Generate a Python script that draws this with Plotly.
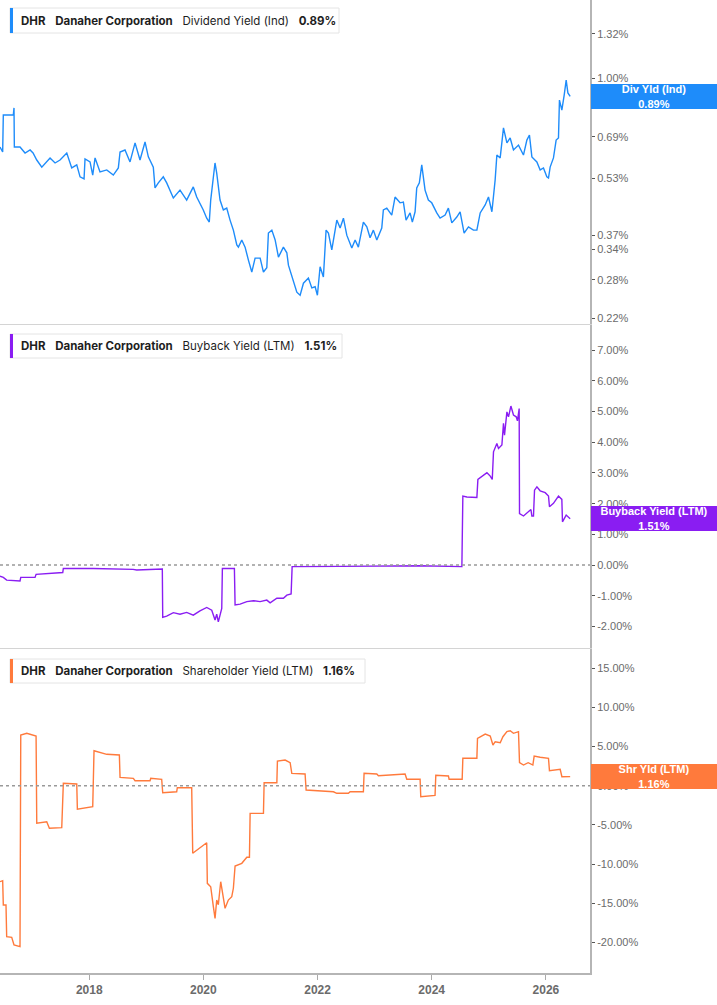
import math
import pandas as pd
import plotly.graph_objects as go

# ---------------- data (dates as decimal years, values in %) ----------------
div_years = [
    2016.437, 2016.484, 2016.495, 2016.670, 2016.682, 2016.688, 2016.787, 2016.875, 2016.963, 2017.015,
    2017.080, 2017.168, 2017.313, 2017.401, 2017.488, 2017.606, 2017.693, 2017.781, 2017.839, 2017.909,
    2017.926, 2018.014, 2018.061, 2018.102, 2018.189, 2018.307, 2018.422, 2018.510, 2018.540, 2018.627,
    2018.715, 2018.803, 2018.890, 2018.978, 2019.036, 2019.123, 2019.153, 2019.211, 2019.298, 2019.358,
    2019.474, 2019.591, 2019.708, 2019.824, 2019.884, 2019.941, 2019.999, 2020.059, 2020.104, 2020.129,
    2020.146, 2020.204, 2020.234, 2020.292, 2020.350, 2020.409, 2020.467, 2020.525, 2020.585, 2020.613,
    2020.672, 2020.730, 2020.788, 2020.847, 2020.905, 2020.993, 2021.051, 2021.110, 2021.138, 2021.198,
    2021.256, 2021.314, 2021.401, 2021.461, 2021.489, 2021.576, 2021.636, 2021.694, 2021.752, 2021.839,
    2021.899, 2021.957, 2021.997, 2022.044, 2022.102, 2022.149, 2022.190, 2022.249, 2022.337, 2022.395,
    2022.453, 2022.512, 2022.600, 2022.658, 2022.715, 2022.803, 2022.863, 2022.920, 2022.978, 2023.038,
    2023.125, 2023.153, 2023.213, 2023.300, 2023.358, 2023.446, 2023.504, 2023.551, 2023.621, 2023.661,
    2023.709, 2023.738, 2023.784, 2023.826, 2023.884, 2023.942, 2024.001, 2024.089, 2024.147, 2024.235,
    2024.292, 2024.352, 2024.439, 2024.497, 2024.567, 2024.643, 2024.730, 2024.790, 2024.848, 2024.935,
    2024.993, 2025.053, 2025.110, 2025.140, 2025.198, 2025.256, 2025.316, 2025.373, 2025.431, 2025.519,
    2025.606, 2025.666, 2025.711, 2025.754, 2025.841, 2025.899, 2025.957, 2026.016, 2026.045, 2026.074,
    2026.132, 2026.179, 2026.220, 2026.237, 2026.279, 2026.320, 2026.355, 2026.385, 2026.425,
]
div_yield = [
    0.647, 0.627, 0.792, 0.792, 0.828, 0.647, 0.647, 0.623, 0.635, 0.623,
    0.596, 0.570, 0.604, 0.585, 0.596, 0.623, 0.567, 0.578, 0.536, 0.529,
    0.600, 0.589, 0.542, 0.604, 0.553, 0.560, 0.542, 0.567, 0.627, 0.635,
    0.589, 0.664, 0.596, 0.668, 0.608, 0.570, 0.500, 0.516, 0.536, 0.516,
    0.469, 0.493, 0.463, 0.503, 0.472, 0.455, 0.435, 0.413, 0.403, 0.463,
    0.493, 0.585, 0.549, 0.463, 0.435, 0.440, 0.408, 0.383, 0.349, 0.344,
    0.360, 0.344, 0.317, 0.294, 0.321, 0.321, 0.294, 0.302, 0.376, 0.383,
    0.360, 0.323, 0.344, 0.332, 0.307, 0.280, 0.259, 0.254, 0.274, 0.283,
    0.266, 0.268, 0.254, 0.304, 0.285, 0.383, 0.376, 0.338, 0.408, 0.388,
    0.413, 0.371, 0.342, 0.360, 0.344, 0.403, 0.391, 0.365, 0.383, 0.360,
    0.388, 0.435, 0.440, 0.421, 0.472, 0.455, 0.457, 0.408, 0.427, 0.403,
    0.430, 0.500, 0.516, 0.578, 0.493, 0.463, 0.455, 0.427, 0.413, 0.421,
    0.440, 0.401, 0.416, 0.430, 0.376, 0.391, 0.383, 0.383, 0.427, 0.449,
    0.472, 0.430, 0.526, 0.615, 0.604, 0.730, 0.664, 0.685, 0.635, 0.655,
    0.615, 0.676, 0.698, 0.608, 0.589, 0.560, 0.567, 0.536, 0.532, 0.570,
    0.604, 0.676, 0.685, 0.870, 0.817, 0.898, 0.987, 0.910, 0.890,
]

bb_years = [
    2016.437, 2016.495, 2016.554, 2016.787, 2016.800, 2017.050, 2017.068, 2017.283, 2017.301, 2017.536,
    2017.546, 2018.072, 2018.768, 2018.832, 2019.281, 2019.288, 2019.358, 2019.474, 2019.591, 2019.708,
    2019.824, 2019.941, 2020.059, 2020.147, 2020.205, 2020.234, 2020.262, 2020.322, 2020.333, 2020.543,
    2020.555, 2020.643, 2020.760, 2020.876, 2020.993, 2021.110, 2021.168, 2021.286, 2021.401, 2021.461,
    2021.536, 2021.554, 2022.395, 2023.797, 2024.528, 2024.545, 2024.615, 2024.790, 2024.808, 2024.878,
    2024.966, 2025.024, 2025.059, 2025.081, 2025.140, 2025.169, 2025.228, 2025.256, 2025.274, 2025.316,
    2025.344, 2025.386, 2025.431, 2025.479, 2025.501, 2025.531, 2025.537, 2025.607, 2025.695, 2025.737,
    2025.754, 2025.782, 2025.800, 2025.842, 2025.899, 2025.987, 2026.045, 2026.062, 2026.132, 2026.220,
    2026.279, 2026.290, 2026.355, 2026.425,
]
bb_yield = [
    -0.36, -0.40, -0.49, -0.52, -0.40, -0.40, -0.30, -0.27, -0.25, -0.24,
    -0.11, -0.11, -0.14, -0.16, -0.13, -1.70, -1.66, -1.55, -1.60, -1.54,
    -1.63, -1.49, -1.38, -1.47, -1.79, -1.60, -1.85, -1.41, -0.11, -0.11,
    -1.30, -1.27, -1.19, -1.16, -1.19, -1.14, -1.23, -1.08, -1.08, -0.98,
    -0.94, -0.05, -0.04, -0.02, -0.05, 2.25, 2.22, 2.20, 2.79, 2.90,
    3.01, 2.90, 2.79, 3.69, 3.96, 3.80, 3.91, 4.62, 4.23, 4.99,
    4.83, 5.18, 4.89, 4.83, 4.70, 5.10, 1.68, 1.60, 1.74, 1.81,
    1.60, 1.60, 2.44, 2.55, 2.42, 2.36, 2.25, 1.90, 2.01, 2.25,
    2.14, 1.41, 1.63, 1.51,
]

shr_years = [
    2016.437, 2016.484, 2016.495, 2016.542, 2016.554, 2016.642, 2016.682, 2016.787, 2016.800, 2016.905,
    2017.068, 2017.080, 2017.255, 2017.301, 2017.518, 2017.546, 2017.781, 2017.792, 2018.061, 2018.084,
    2018.307, 2018.528, 2018.540, 2018.773, 2018.803, 2019.066, 2019.078, 2019.270, 2019.288, 2019.533,
    2019.544, 2019.796, 2019.814, 2019.884, 2020.059, 2020.070, 2020.129, 2020.175, 2020.205, 2020.234,
    2020.262, 2020.304, 2020.339, 2020.380, 2020.437, 2020.497, 2020.525, 2020.555, 2020.672, 2020.760,
    2020.806, 2020.818, 2021.051, 2021.063, 2021.286, 2021.296, 2021.431, 2021.519, 2021.548, 2021.781,
    2021.799, 2021.987, 2022.277, 2022.337, 2022.540, 2022.570, 2022.803, 2022.815, 2023.038, 2023.066,
    2023.534, 2023.564, 2023.797, 2023.809, 2024.059, 2024.072, 2024.293, 2024.305, 2024.533, 2024.545,
    2024.790, 2024.801, 2024.936, 2025.024, 2025.071, 2025.111, 2025.199, 2025.246, 2025.316, 2025.374,
    2025.431, 2025.519, 2025.537, 2025.607, 2025.689, 2025.771, 2025.794, 2025.899, 2026.045, 2026.062,
    2026.162, 2026.250, 2026.280, 2026.367, 2026.425,
]
shr_yield = [
    -12.26, -12.13, -15.24, -15.24, -19.28, -19.36, -20.35, -20.56, 6.47, 6.69,
    6.35, -4.80, -4.60, -5.44, -5.36, 0.31, 0.22, -3.01, -2.68, 4.47,
    4.01, 3.92, 1.07, 0.94, 0.64, 0.64, 0.94, 0.82, -0.89, -0.77,
    -0.26, -0.26, -8.63, -8.21, -7.28, -12.47, -12.90, -15.45, -16.94, -14.60,
    -15.20, -12.26, -13.74, -15.66, -14.60, -14.18, -13.10, -10.26, -9.91, -9.14,
    -9.14, -3.53, -3.53, 0.38, 0.38, 3.15, 3.28, 2.94, 1.58, 1.49,
    -0.55, -0.60, -0.77, -0.97, -0.97, -0.77, -0.77, 1.58, 1.49, 1.28,
    1.49, 0.82, 0.82, -1.40, -1.23, 1.33, 1.24, 0.82, 0.82, 3.50,
    3.50, 6.05, 6.60, 6.35, 5.20, 5.62, 5.49, 6.26, 6.90, 7.02,
    6.69, 6.90, 2.94, 2.64, 2.94, 2.64, 3.79, 3.63, 3.50, 1.92,
    2.01, 2.09, 1.15, 1.20, 1.16,
]

div_ticks = [0.22, 0.28, 0.34, 0.37, 0.53, 0.69, 0.85, 1.00, 1.32]
bb_ticks = [-2, -1, 0, 1, 2, 3, 4, 5, 6, 7]
shr_ticks = [-20, -15, -10, -5, 0, 5, 10, 15]

# ---------------- helpers ----------------
W, H = 717, 1005


def to_dates(years):
    out = []
    for y in years:
        yr = int(y)
        start = pd.Timestamp(year=yr, month=1, day=1)
        ndays = (pd.Timestamp(year=yr + 1, month=1, day=1) - start).days
        out.append(start + pd.Timedelta(days=(y - yr) * ndays))
    return out


def px(x):
    return x / W


def py(y):
    return 1 - y / H


BLUE = "#1E8CFA"
PURPLE = "#8A1DF2"
ORANGE = "#FF7A3C"
AXIS_TXT = "#6B6B6B"

XDOM = [0, px(590)]
X_RANGE = ["2016-06-09", "2026-10-10"]

fig = go.Figure()
fig.add_trace(go.Scatter(x=to_dates(div_years), y=div_yield, mode="lines",
                         line=dict(color=BLUE, width=1.4), xaxis="x", yaxis="y",
                         hoverinfo="skip", showlegend=False))
fig.add_trace(go.Scatter(x=to_dates(bb_years), y=bb_yield, mode="lines",
                         line=dict(color=PURPLE, width=1.4), xaxis="x2", yaxis="y2",
                         hoverinfo="skip", showlegend=False))
fig.add_trace(go.Scatter(x=to_dates(shr_years), y=shr_yield, mode="lines",
                         line=dict(color=ORANGE, width=1.4), xaxis="x3", yaxis="y3",
                         hoverinfo="skip", showlegend=False))

common_x = dict(domain=XDOM, range=X_RANGE, showgrid=False, zeroline=False,
                showline=True, linecolor="#D4D4D4", linewidth=1, fixedrange=True)
common_y = dict(side="right", showgrid=False, zeroline=False, showline=True,
                linecolor="#B5B5B5", linewidth=2, ticks="outside", ticklen=3,
                tickcolor="#555555", tickwidth=1,
                tickfont=dict(family="Arial, Liberation Sans", size=11, color=AXIS_TXT))

fig.update_layout(
    width=W, height=H,
    margin=dict(l=0, r=0, t=0, b=0),
    paper_bgcolor="white", plot_bgcolor="white",
    showlegend=False,
    xaxis=dict(**common_x, anchor="y", showticklabels=False, ticks=""),
    xaxis2=dict(**common_x, anchor="y2", matches="x", showticklabels=False, ticks=""),
    xaxis3=dict(domain=XDOM, range=X_RANGE, showgrid=False, zeroline=False,
                showline=True, linecolor="#B5B5B5", linewidth=2,
                anchor="y3", matches="x", showticklabels=True,
                tickformat="%Y", dtick="M24", tick0="2018-01-01",
                ticks="outside", ticklen=5, tickcolor="#AAAAAA",
                tickfont=dict(family="Arial, Liberation Sans", size=12, color=AXIS_TXT,
                              weight="bold")),
    yaxis=dict(**common_y, anchor="x", domain=[py(324), py(0)], type="log",
               range=[-0.674, 0.2137], tickvals=div_ticks,
               ticktext=[f"{v:.2f}%" for v in div_ticks]),
    yaxis2=dict(**common_y, anchor="x2", domain=[py(648), py(325)],
                range=[-2.70, 7.82], tickvals=bb_ticks,
                ticktext=[f"{v:.2f}%" for v in bb_ticks]),
    yaxis3=dict(**common_y, anchor="x3", domain=[py(973), py(649)],
                range=[-23.92, 17.46], tickvals=shr_ticks,
                ticktext=[f"{v:.2f}%" for v in shr_ticks]),
)

# zero dotted lines
for xr, yr in [("x2", "y2"), ("x3", "y3")]:
    fig.add_shape(type="line", xref=f"{xr} domain", yref=yr, x0=0, x1=1, y0=0, y1=0,
                  line=dict(color="#999999", width=1.5, dash="dot"))

# legend boxes (top-left of each panel)
legend_specs = [
    (8, 33, 339, BLUE, "Dividend Yield (Ind)", f"{div_yield[-1]:.2f}%"),
    (334, 358, 342, PURPLE, "Buyback Yield (LTM)", f"{bb_yield[-1]:.2f}%"),
    (659, 683, 365, ORANGE, "Shareholder Yield (LTM)", f"{shr_yield[-1]:.2f}%"),
]
NB = "\u00a0"
for y0, y1, xr, col, label, val in legend_specs:
    fig.add_shape(type="rect", xref="paper", yref="paper",
                  x0=px(10), x1=px(xr), y0=py(y1), y1=py(y0),
                  line=dict(color="#E4E4E4", width=1), fillcolor="white", layer="above")
    fig.add_shape(type="rect", xref="paper", yref="paper",
                  x0=px(10), x1=px(13), y0=py(y1), y1=py(y0),
                  line=dict(width=0), fillcolor=col, layer="above")
    fig.add_annotation(xref="paper", yref="paper", x=px(19), y=py((y0 + y1) / 2),
                       xanchor="left", yanchor="middle", showarrow=False,
                       text=f"<b>DHR</b>{NB*3}<b>Danaher Corporation</b>{NB*3}{label}{NB*3}<b>{val}</b>",
                       font=dict(family="Inter", size=11.5, color="#1E1E1E"))

# value boxes on right axis
value_specs = [
    ("y", math.log10(div_yield[-1]), BLUE, "Div Yld (Ind)", f"{div_yield[-1]:.2f}%"),
    ("y2", bb_yield[-1], PURPLE, "Buyback Yield (LTM)", f"{bb_yield[-1]:.2f}%"),
    ("y3", shr_yield[-1], ORANGE, "Shr Yld (LTM)", f"{shr_yield[-1]:.2f}%"),
]
for yref, yv, col, lab, val in value_specs:
    fig.add_annotation(xref="paper", yref=yref, x=px(591), y=yv,
                       xanchor="left", yanchor="middle", showarrow=False,
                       text=f"<b>{lab}</b><br><b>{val}</b>", align="center",
                       width=126, height=25, bgcolor=col, borderpad=0, borderwidth=0,
                       font=dict(family="Arial, Liberation Sans", size=11, color="white"))

fig.write_html("out.html")
